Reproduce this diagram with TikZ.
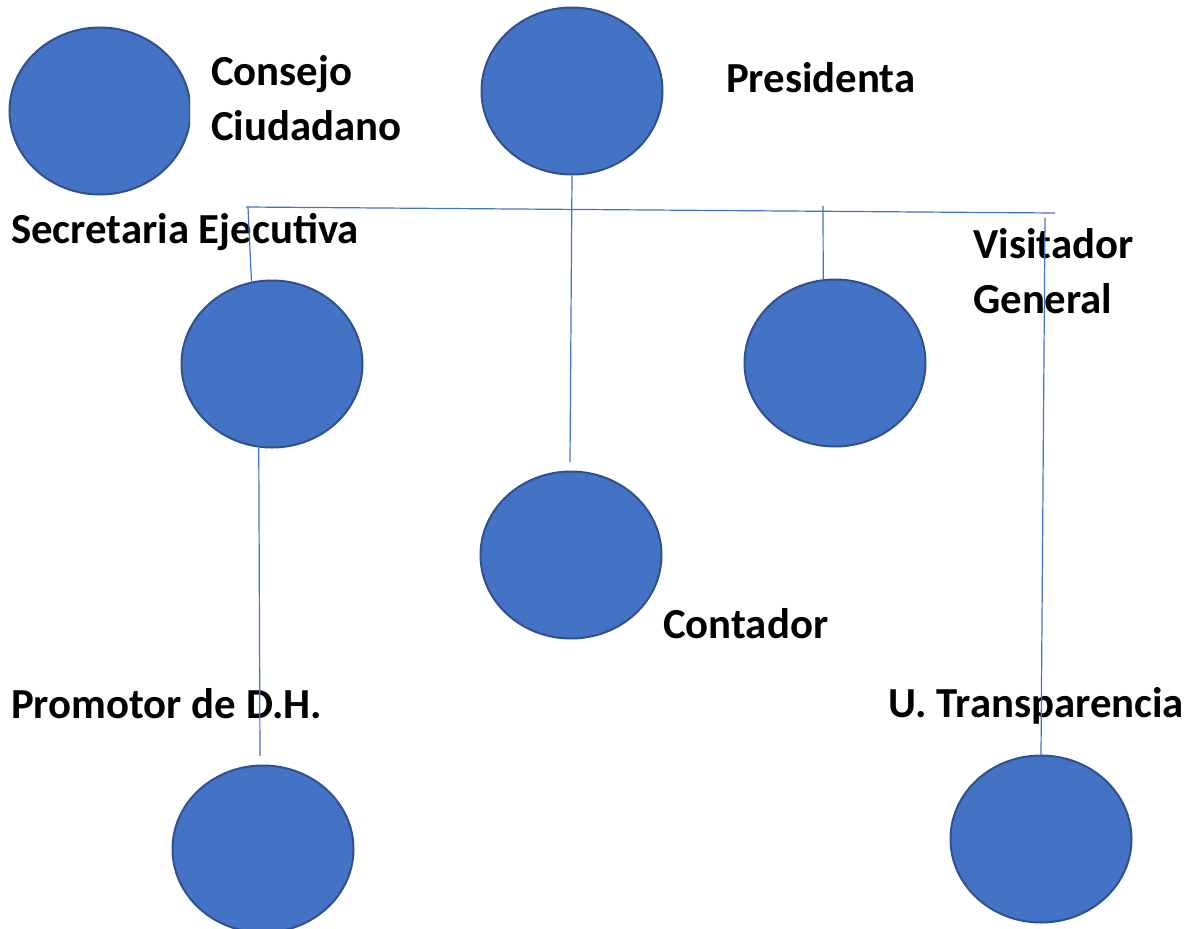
\documentclass[tikz,border=0pt]{standalone}
\usepackage{fontspec}
\setmainfont{Carlito}
\usetikzlibrary{shapes.geometric}
\definecolor{cfill}{HTML}{4472C4}
\definecolor{cedge}{HTML}{2F528F}
\definecolor{cline}{HTML}{4472C4}
\tikzset{
  unit/.style={ellipse, fill=cfill, draw=cedge, line width=2pt, minimum width=181pt, minimum height=167pt, inner sep=0pt},
  lbl/.style={anchor=base west, inner sep=0pt, font=\fontsize{42.8}{50}\selectfont\bfseries},
  link/.style={draw=cline, line width=1.2pt}
}
\begin{document}
\begin{tikzpicture}[x=1pt,y=-1pt]
\useasboundingbox (0,0) rectangle (1189,929);
\begin{scope}
\clip (0,0) rectangle (1189,929);
\node[unit] (pres) at (572,91) {};
\node[unit] (sec) at (272,364) {};
\node[unit] (vis) at (835,363) {};
\node[unit] (cont) at (571,555) {};
\node[unit] (prom) at (263,849) {};
\node[unit] (trans) at (1041,839) {};
\begin{scope}
\clip (0,0) rectangle (190,929);
\node[unit] (cons) at (100,111) {};
\end{scope}
\end{scope}
\node[lbl] (tcons1) at (211,85) {Consejo};
\node[lbl] (tcons2) at (211,140) {Ciudadano};
\node[lbl] (tpres) at (726,92) {Presidenta};
\node[lbl] (tsec) at (11,243) {Secretaria Ejecutiva};
\node[lbl] (tvis1) at (973,258) {Visitador};
\node[lbl] (tvis2) at (973,313) {General};
\node[lbl] (tcont) at (663,638) {Contador};
\node[lbl] (tprom) at (11,718) {Promotor de D.H.};
\node[lbl] (ttrans) at (888,717) {U. Transparencia};
\coordinate (hL) at (246,207);
\coordinate (hR) at (1055,213);
\coordinate (hS) at (248,207);
\coordinate (hV) at (823,206);
\coordinate (vTop) at (1045,218);
\coordinate (cTop) at (570,462);
\coordinate (pBot) at (260,756);
\path[link] (hL) -- (hR);
\path[link] (pres.south) -- (cTop);
\path[link] (hS) -- (sec.104);
\path[link] (hV) -- (vis.98);
\path[link] (vTop) -- (trans.north);
\path[link] (sec.261) -- (pBot);
\end{tikzpicture}
\end{document}
